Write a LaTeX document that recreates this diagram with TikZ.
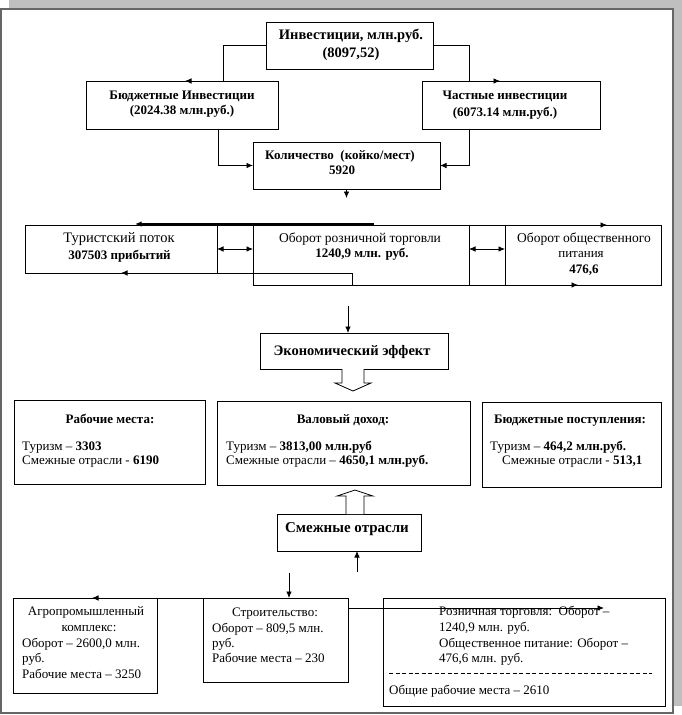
\documentclass[tikz,border=0pt]{standalone}
\usepackage{fontspec}
\setmainfont{Liberation Serif}
\usetikzlibrary{arrows.meta,calc}
\tikzset{
  box/.style={draw=black, line width=0.8pt, inner sep=0pt, outer sep=0pt, fill=none},
  t/.style={inner sep=0pt, font=\fontsize{13}{15}\selectfont},
  tb/.style={inner sep=0pt, font=\fontsize{13}{15}\selectfont\bfseries},
  arr/.style={line width=0.8pt, -{Latex[length=6.5pt,width=5.5pt]}},
  dbl/.style={line width=0.8pt, {Latex[length=6.5pt,width=5.5pt]}-{Latex[length=6.5pt,width=5.5pt]}},
  hollow/.style={draw=black, line width=0.8pt, fill=white},
}
\begin{document}
\begin{tikzpicture}[x=1pt,y=-1pt]
\useasboundingbox (0,0) rectangle (682,715);
% page frame with shadow
\fill[gray!50] (9,0) rectangle (682,706);
\draw[draw=black!60, line width=1.4pt, fill=white] (1,9) rectangle (673,713);

% boxes
\node[box, minimum width=167pt, minimum height=47pt] (inv) at (349.5,45.5) {};
\node[box, minimum width=192pt, minimum height=48pt] (bud) at (182,105) {};
\node[box, minimum width=178pt, minimum height=48pt] (chas) at (511,105) {};
\node[box, minimum width=187pt, minimum height=47pt] (kol) at (346.5,165.5) {};
\node[box, minimum width=192pt, minimum height=48pt] (tur) at (121,249) {};
\node[box, minimum width=216pt, minimum height=60pt] (rozn) at (361,255) {};
\node[box, minimum width=156pt, minimum height=60pt] (pit) at (583,255) {};
\node[box, minimum width=36pt, minimum height=48pt] (c1) at (235,249) {};
\node[box, minimum width=36pt, minimum height=60pt] (c2) at (487,255) {};
\node[box, minimum width=188pt, minimum height=36pt] (econ) at (354,351) {};
\node[box, minimum width=191pt, minimum height=84pt] (rab) at (109.5,442) {};
\node[box, minimum width=253pt, minimum height=84pt] (val) at (343.5,443) {};
\node[box, minimum width=179pt, minimum height=85pt] (bp) at (571.5,444.5) {};
\node[box, minimum width=144pt, minimum height=37pt] (smezh) at (349,532.5) {};
\node[box, minimum width=144pt, minimum height=95pt] (agro) at (85,645.5) {};
\node[box, minimum width=145pt, minimum height=84pt] (str) at (275.5,640) {};
\node[box, minimum width=282pt, minimum height=108pt] (rt) at (524,652) {};

% texts
\node[tb, anchor=base] (tinv1) at (351,39.5) {\fontsize{14.5}{16}\selectfont Инвестиции, млн.руб.};
\node[tb, anchor=base] (tinv2) at (351,57.5) {\fontsize{14.5}{16}\selectfont (8097,52)};
\node[tb, anchor=base] (tbud1) at (182,99.5) {Бюджетные Инвестиции};
\node[tb, anchor=base] (tbud2) at (182,114.5) {(2024.38 млн.руб.)};
\node[tb, anchor=base] (tchas1) at (505,99.5) {Частные инвестиции};
\node[tb, anchor=base] (tchas2) at (505,116.5) {(6073.14 млн.руб.)};
\node[tb, anchor=base] (tkol1) at (340,159.5) {Количество\ \ (койко/мест)};
\node[tb, anchor=base] (tkol2) at (342,174.5) {5920};
\node[t, anchor=base] (ttur1) at (119,242.5) {\fontsize{14.5}{16}\selectfont Туристский поток};
\node[tb, anchor=base] (ttur2) at (119.5,259.5) {307503 прибытий};
\node[t, anchor=base] (troz1) at (360,242.5) {\fontsize{13.5}{16}\selectfont Оборот розничной торговли};
\node[tb, anchor=base] (troz2) at (362,257.5) {1240,9 млн. руб.};
\node[t, anchor=base] (tpit1) at (584,242.5) {\fontsize{13.5}{16}\selectfont Оборот общественного};
\node[t, anchor=base] (tpit2) at (581,257.5) {питания};
\node[tb, anchor=base] (tpit3) at (584,273.5) {476,6};
\node[tb, anchor=base] (tecon) at (352,355.5) {\fontsize{14.5}{16}\selectfont Экономический эффект};
\node[tb, anchor=base] (trab1) at (110,423.5) {Рабочие места:};
\node[t, anchor=base west] (trab2) at (22,450.5) {Туризм – \textbf{3303}};
\node[t, anchor=base west] (trab3) at (22,464.5) {Смежные отрасли - \textbf{6190}};
\node[tb, anchor=base] (tval1) at (343,423.5) {Валовый доход:};
\node[t, anchor=base west] (tval2) at (226,450.5) {Туризм – \textbf{3813,00 млн.руб}};
\node[t, anchor=base west] (tval3) at (226,464.5) {Смежные отрасли – \textbf{4650,1 млн.руб.}};
\node[tb, anchor=base] (tbp1) at (570,423.5) {Бюджетные поступления:};
\node[t, anchor=base west] (tbp2) at (490,450.5) {Туризм – \textbf{464,2 млн.руб.}};
\node[t, anchor=base west] (tbp3) at (502,464.5) {Смежные отрасли - \textbf{513,1}};
\node[tb, anchor=base] (tsmezh) at (347,532) {\fontsize{15}{16}\selectfont Смежные отрасли};
\node[t, anchor=base] (tagro1) at (86,615.5) {Агропромышленный};
\node[t, anchor=base] (tagro2) at (89,631.5) {комплекс:};
\node[t, anchor=base west] (tagro3) at (22,647.5) {Оборот – 2600,0 млн.};
\node[t, anchor=base west] (tagro4) at (22,662.5) {руб.};
\node[t, anchor=base west] (tagro5) at (22,678.5) {Рабочие места – 3250};
\node[t, anchor=base] (tstr1) at (275,616.5) {Строительство:};
\node[t, anchor=base west] (tstr2) at (212,632.5) {Оборот – 809,5 млн.};
\node[t, anchor=base west] (tstr3) at (212,647.5) {руб.};
\node[t, anchor=base west] (tstr4) at (212,662.5) {Рабочие места – 230};
\node[t, anchor=base west] (trt1) at (439,615.5) {Розничная торговля:\ \ Оборот –};
\node[t, anchor=base west] (trt2) at (439,631.5) {1240,9 млн. руб.};
\node[t, anchor=base west] (trt3) at (439,647.5) {Общественное питание: Оборот –};
\node[t, anchor=base west] (trt4) at (439,662.5) {476,6 млн. руб.};
\node[t, anchor=base west] (trt5) at (389,694.5) {Общие рабочие места – 2610};
\coordinate (d1) at (389,673);
\coordinate (d2) at (652,673);
\draw[line width=0.7pt, dash pattern=on 4pt off 2.5pt] (d1) -- (d2);

% connectors
\draw[arr] (inv.west) -| ([xshift=41pt]bud.north) -- ([xshift=3pt]bud.north);
\draw[arr] (inv.east) -| ([xshift=-42pt]chas.north) -- ([xshift=-11pt]chas.north);
\draw[arr] ([xshift=36pt]bud.south) |- (kol.west);
\draw[arr] ([xshift=-42pt]chas.south) |- (kol.east);
\draw[arr] (kol.south) -- ++(0,9);
\draw[arr, line width=1.8pt] ([xshift=13pt,yshift=1pt]rozn.north) -- ([xshift=14pt,yshift=1pt]tur.north);
\draw[arr] (pit.north west) -- ([xshift=24pt]pit.north);
\draw[arr] ([xshift=-9pt]rozn.south) |- (tur.south);
\draw[arr] ([xshift=-9pt]rozn.south) -- ([xshift=-5pt]pit.south);
\draw[dbl] (tur.east) -- (rozn.west |- tur.east);
\draw[dbl] (rozn.east |- tur.east) -- (pit.west |- tur.east);
\coordinate (s1) at (348,306);
\draw[arr] (s1) -- (s1 |- econ.north);
\draw[hollow] ([xshift=-1pt]econ.south) ++(-11,0) -- ++(0,14) -- ++(-7,0) -- ++(18,8) -- ++(18,-8) -- ++(-7,0) -- ++(0,-14);
\draw[hollow] ([xshift=6pt]smezh.north) ++(-9,0) -- ++(0,-18) -- ++(-9,0) -- ++(18,-6) -- ++(18,6) -- ++(-9,0) -- ++(0,18);
\coordinate (s2) at (357,572);
\draw[arr] (s2) -- (s2 |- smezh.south);
\coordinate (s3) at (289,573);
\draw[arr] (s3) -- (s3 |- str.north);
\draw[arr] (str.north east) -- ([xshift=7pt]agro.north);
\draw[arr] (str.north east) -- ++(0,10) -- ($(rt.north west)+(221,10)$);
\end{tikzpicture}
\end{document}
